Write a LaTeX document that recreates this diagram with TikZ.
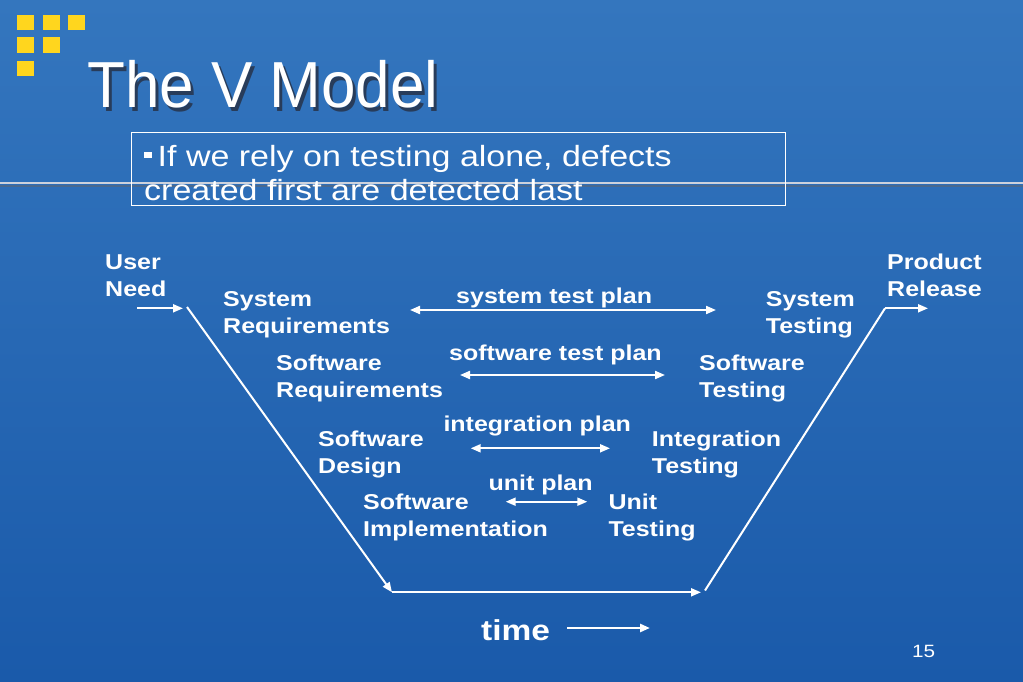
\documentclass[tikz,border=0pt]{standalone}
\usepackage{fontspec}
\usepackage{graphicx}
\setmainfont{Liberation Sans}
\usetikzlibrary{arrows.meta}
\definecolor{bgtop}{RGB}{52,118,190}
\definecolor{bgbot}{RGB}{26,90,170}
\definecolor{sqyellow}{RGB}{255,214,30}
\definecolor{rulegray}{RGB}{205,210,220}
\definecolor{titleshadow}{RGB}{40,60,90}
\newcommand\sq[1]{\scalebox{1}[0.86]{#1}}
\newcommand\twolines[2]{\vtop{\hbox{#1}\hbox{#2}}}
\newcommand\shadowed[1]{\rlap{\kern3pt\raisebox{-3pt}{\textcolor{titleshadow}{#1}}}#1}
\begin{document}
\begin{tikzpicture}[x=1pt,y=-1pt,
  lbl/.style={anchor=base west, inner sep=0pt, text=white, font=\fontsize{25}{31.7}\selectfont\bfseries},
  arr/.style={white, line width=2pt, -{Triangle[length=10pt,width=8pt]}},
  darr/.style={white, line width=2pt, {Triangle[length=10pt,width=8pt]}-{Triangle[length=10pt,width=8pt]}},
  vline/.style={white, line width=2pt},
  yel/.style={fill=sqyellow, draw=none}]
\shade[top color=bgtop, bottom color=bgbot] (0,0) rectangle (1023,682);
\useasboundingbox (0,0) rectangle (1023,682);
% yellow squares
\fill[yel] (16.7,15) rectangle (34,30);
\fill[yel] (42.7,15) rectangle (60,30);
\fill[yel] (68.3,15) rectangle (85,30);
\fill[yel] (16.7,37.3) rectangle (34,52.7);
\fill[yel] (42.7,37.3) rectangle (60,52.7);
\fill[yel] (16.7,60.7) rectangle (34,76);
% title
\node[anchor=base west, inner sep=0pt, text=white, font=\fontsize{62}{62}\selectfont] (title) at (87,108) {\scalebox{1}[1.05]{\shadowed{The V Model}}};
% horizontal rule
\draw[line width=2pt, black!60, opacity=0.5] (0,185.5) -- (1023,185.5);
\draw[line width=1.5pt, rulegray] (0,183) -- (1023,183);
% box and bullet text
\node[draw=white, line width=0.8pt, anchor=north west, inner sep=0pt, minimum width=654pt, minimum height=73pt] (box) at (131,132) {};
\node[anchor=base west, inner sep=0pt, text=white, font=\fontsize{34}{38.4}\selectfont] (bullet) at (144,167)
  {\sq{\twolines{\raisebox{10pt}{\rule{7.5pt}{8pt}}\hspace{6pt}If we rely on testing alone, defects}{created first are detected last}}};
% labels
\node[lbl] (un) at (105,269.3) {\sq{\twolines{User}{Need}}};
\node[lbl] (sr) at (223,306.7) {\sq{\twolines{System}{Requirements}}};
\node[lbl] (swr) at (276,370) {\sq{\twolines{Software}{Requirements}}};
\node[lbl] (sd) at (318,446) {\sq{\twolines{Software}{Design}}};
\node[lbl] (si) at (363,509.3) {\sq{\twolines{Software}{Implementation}}};
\node[lbl] (st) at (765.7,306.7) {\sq{\twolines{System}{Testing}}};
\node[lbl] (swt) at (699,370) {\sq{\twolines{Software}{Testing}}};
\node[lbl] (it) at (651.7,446) {\sq{\twolines{Integration}{Testing}}};
\node[lbl] (ut) at (608.3,509.3) {\sq{\twolines{Unit}{Testing}}};
\node[lbl] (pr) at (887,269) {\sq{\twolines{Product}{Release}}};
\node[lbl] (stp) at (456,303.3) {\sq{system test plan}};
\node[lbl] (swtp) at (449,360) {\sq{software test plan}};
\node[lbl] (ip) at (443.3,431.7) {\sq{integration plan}};
\node[lbl] (upl) at (488.3,490.7) {\sq{unit plan}};
\node[lbl, font=\fontsize{33.5}{40}\selectfont\bfseries] (time) at (481,640) {\sq{time}};
\node[anchor=base west, inner sep=0pt, text=white, font=\fontsize{20.7}{24}\selectfont] (pg) at (912,657) {\sq{15}};
% coordinates of the V
\coordinate (una) at (137,308.3);
\coordinate (unb) at (183,308.3);
\coordinate (v1) at (187,307);
\coordinate (v2) at (392,592.3);
\coordinate (v3) at (701,592.3);
\coordinate (v4) at (705,590.5);
\coordinate (v5) at (885,308.3);
\coordinate (v6) at (928,308.3);
\coordinate (sa) at (410,310);
\coordinate (sb) at (716,310);
\coordinate (swa) at (460,375);
\coordinate (swb) at (665,375);
\coordinate (ia) at (470.7,448.3);
\coordinate (ib) at (610,448.3);
\coordinate (ua) at (505.7,501.7);
\coordinate (ub) at (587.3,501.7);
\coordinate (ta) at (567,628);
\coordinate (tb) at (650,628);
% connectors
\draw[arr] (una) -- (unb);
\draw[arr] (v1) -- (v2);
\draw[arr] (v2) -- (v3);
\draw[vline] (v4) -- (v5);
\draw[arr] (v5) -- (v6);
\draw[darr] (sa) -- (sb);
\draw[darr] (swa) -- (swb);
\draw[darr] (ia) -- (ib);
\draw[darr] (ua) -- (ub);
\draw[arr, line width=2.5pt] (ta) -- (tb);
\end{tikzpicture}
\end{document}
